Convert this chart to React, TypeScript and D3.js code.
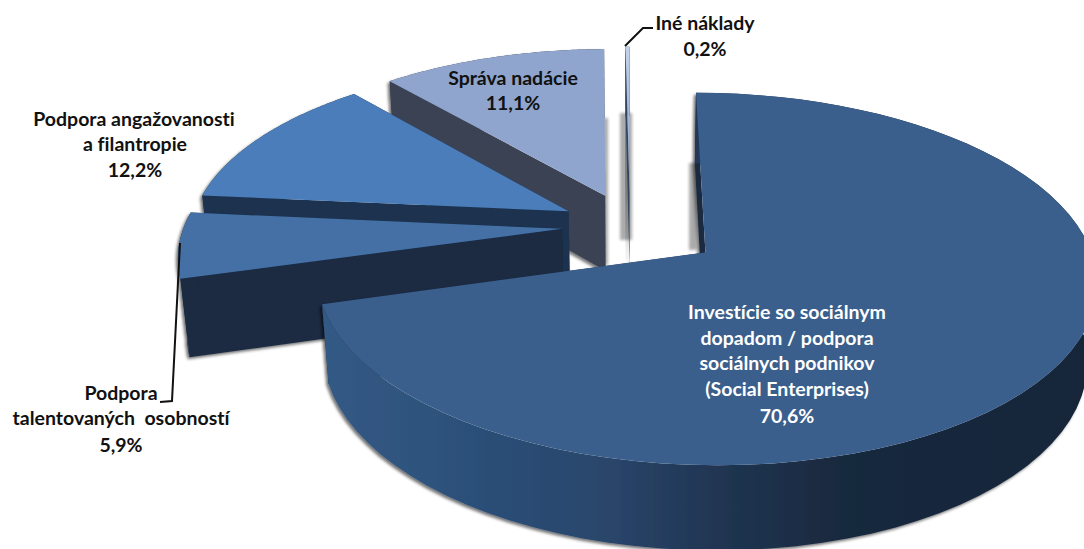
import React from "react";
import * as d3 from "d3";

// ---- data ----
const categories = ["Investície", "Talent", "Angažovanosť", "Správa", "Iné"];
const values = [70.6, 5.9, 12.2, 11.1, 0.2];

// ---- 3D projection of the pie ----
const W = 1084, H = 549;
const CX = 630, CY = 226, RX = 378, RY = 175, PERSP = 0.14, DEPTH = 78, SHRINK = 0.02;
const explode = [0.245, 0.18, 0.185, 0.19, 0.195];
const topFill = ["#3A5F8C", "#4470A5", "#4A7DB9", "#8FA5CD", "url(#ineTop)"];
const radialFill = ["#1A2B41", "#1A2C43", "#1D3350", "#3B4252", "#33465F"];
const rimFill = ["url(#bigRim)", "#1A2C43", "#1D3350", "#3B4252", "#33465F"];
const drawOrder = [3, 4, 2, 1, 0];

type Pt = [number, number];
function project(X: number, Y: number, h: number): Pt {
  const w = 1 - PERSP * Y + SHRINK * h;
  return [CX + (RX * X) / w, CY + (RY * Y + DEPTH * h) / w];
}

const arcs = d3.pie<number>().sort(null).startAngle(0).endAngle(2 * Math.PI)(values);
const line = d3.line<Pt>();

function buildSlice(i: number) {
  const a = arcs[i];
  const mid = (a.startAngle + a.endAngle) / 2;
  const ox = Math.sin(mid) * explode[i];
  const oy = -Math.cos(mid) * explode[i];
  const ts = d3.range(0, 73).map((k) => a.startAngle + ((a.endAngle - a.startAngle) * k) / 72);
  const rim = (h: number) => ts.map((t) => project(ox + Math.sin(t), oy - Math.cos(t), h));
  const apex = (h: number) => project(ox, oy, h);
  const topRim = rim(0);
  const botRim = rim(1);
  return {
    top: line([apex(0), ...topRim])! + "Z",
    outer: line([...topRim, ...[...botRim].reverse()])! + "Z",
    startWall: line([apex(0), topRim[0], botRim[0], apex(1)])! + "Z",
    endWall: line([apex(0), topRim[72], botRim[72], apex(1)])! + "Z",
  };
}

const labelFont = "Lato, 'Open Sans', sans-serif";
type Lbl = { x: number; y: number; t: string; c?: string };
const labels: Lbl[] = [
  { x: 705, y: 30, t: "Iné náklady" },
  { x: 705, y: 56, t: "0,2%" },
  { x: 513, y: 85, t: "Správa nadácie" },
  { x: 513, y: 110, t: "11,1%" },
  { x: 134, y: 126, t: "Podpora angažovanosti" },
  { x: 135, y: 151, t: "a filantropie" },
  { x: 135, y: 177, t: "12,2%" },
  { x: 121, y: 400, t: "Podpora" },
  { x: 121, y: 425, t: "talentovaných  osobností" },
  { x: 121, y: 452, t: "5,9%" },
  { x: 787, y: 319, t: "Investície so sociálnym", c: "#fff" },
  { x: 787, y: 345, t: "dopadom / podpora", c: "#fff" },
  { x: 787, y: 370, t: "sociálnych podnikov", c: "#fff" },
  { x: 787, y: 396, t: "(Social Enterprises)", c: "#fff" },
  { x: 787, y: 423, t: "70,6%", c: "#fff" },
];
const leaders: Pt[][] = [
  [[625, 46], [643, 28], [653, 28]],
  [[180, 243], [172, 401], [160, 402]],
];
const strips = [
  { x: 603, y: 118, w: 5, h: 147 },
  { x: 620, y: 113, w: 12, h: 127 },
  { x: 689, y: 163, w: 8, h: 87 },
];

export default function App() {
  return (
    <svg
      width={W}
      height={H}
      viewBox={`0 0 ${W} ${H}`}
      style={{ position: "absolute", left: 0, top: 0, display: "block", background: "#fff" }}
    >
      <defs>
        <linearGradient id="bigRim" gradientUnits="userSpaceOnUse" x1={323} x2={1084} y1={0} y2={0}>
          <stop offset="0" stopColor="#335A85" />
          <stop offset="0.2" stopColor="#2C4F78" />
          <stop offset="0.38" stopColor="#29456A" />
          <stop offset="0.5" stopColor="#213755" />
          <stop offset="0.68" stopColor="#19293E" />
          <stop offset="1" stopColor="#172639" />
        </linearGradient>
        <linearGradient id="ineTop" x1="0" x2="0" y1="0" y2="1">
          <stop offset="0" stopColor="#C3D3EA" />
          <stop offset="0.6" stopColor="#9DB4D6" />
          <stop offset="1" stopColor="#5F7CA6" />
        </linearGradient>
        <filter id="soft" x="-10%" y="-10%" width="120%" height="120%">
          <feDropShadow dx={-2} dy={2} stdDeviation={1.5} floodColor="#000" floodOpacity={0.55} />
        </filter>
        <filter id="blur" x="-100%" y="-10%" width="300%" height="120%">
          <feGaussianBlur stdDeviation={1.5} />
        </filter>
      </defs>
      <g filter="url(#blur)" fill="#8f8f8f" opacity={0.75}>
        {strips.map((s, i) => (
          <rect key={i} x={s.x} y={s.y} width={s.w} height={s.h} />
        ))}
      </g>
      {drawOrder.map((i) => {
        const s = buildSlice(i);
        return (
          <g key={categories[i]}>
            <g filter="url(#soft)">
              <path d={s.endWall} fill={radialFill[i]} />
              <path d={s.startWall} fill={radialFill[i]} />
              <path d={s.outer} fill={rimFill[i]} />
            </g>
            <path d={s.top} fill={topFill[i]} />
          </g>
        );
      })}
      {leaders.map((l, i) => (
        <path key={i} d={line(l)!} fill="none" stroke="#111" strokeWidth={2} />
      ))}
      {labels.map((l, i) => (
        <text
          key={i}
          x={l.x}
          y={l.y}
          textAnchor="middle"
          fontFamily={labelFont}
          fontWeight={700}
          fontSize={19.5}
          fill={l.c ?? "#111"}
          style={{ whiteSpace: "pre", fontVariantLigatures: "none" }}
        >
          {l.t}
        </text>
      ))}
    </svg>
  );
}
